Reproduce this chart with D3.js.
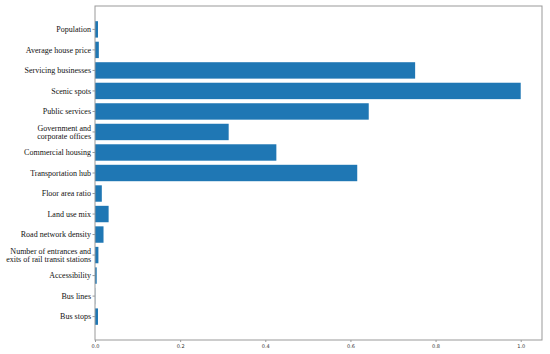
<!DOCTYPE html>
<html><head><meta charset="utf-8">
<script src="https://cdn.jsdelivr.net/npm/d3@7"></script>
<style>body{margin:0;background:#fff}</style>
</head><body><svg id="c" width="550" height="354"></svg>
<script>
const categories = ["Population","Average house price","Servicing businesses","Scenic spots","Public services","Government and\ncorporate offices","Commercial housing","Transportation hub","Floor area ratio","Land use mix","Road network density","Number of entrances and\nexits of rail transit stations","Accessibility","Bus lines","Bus stops"];
const values = [0.007,0.009,0.752,1.0,0.643,0.314,0.426,0.616,0.016,0.032,0.020,0.008,0.004,0.0005,0.007];
const xTicks = [0,0.2,0.4,0.6,0.8,1.0];

const svg = d3.select("#c");
const L=95, R=542, T=6, B=340;
const x = d3.scaleLinear().domain([0,1.05]).range([L,R]);
const n = categories.length;
const yc = d3.scaleLinear().domain([-1.14, n-1+1.14]).range([T,B]);
const bh = 0.8*(yc(1)-yc(0));

svg.selectAll("rect.bar").data(values).enter().append("rect")
  .attr("x", x(0)).attr("y",(d,i)=>yc(i)-bh/2)
  .attr("width", d=>x(d)-x(0)).attr("height", bh).attr("fill","#1f77b4");

svg.append("rect").attr("x",L).attr("y",T).attr("width",R-L).attr("height",B-T)
  .attr("fill","none").attr("stroke","#999").attr("stroke-width",1);

const xa = svg.append("g").attr("transform",`translate(0,${B})`)
  .call(d3.axisBottom(x).tickValues(xTicks).tickFormat(d3.format(".1f")).tickSize(2).tickPadding(2));
xa.select(".domain").remove();
xa.selectAll("line").attr("stroke","#999");
xa.selectAll("text").attr("font-family","DejaVu Sans").attr("font-size","5px").attr("fill","#333");

const g = svg.append("g");
categories.forEach((c,i)=>{
  const y = yc(i);
  g.append("line").attr("x1",L-2.5).attr("x2",L).attr("y1",y).attr("y2",y).attr("stroke","#999");
  const lines = c.split("\n");
  const lh = 7.8;
  const t = g.append("text").attr("text-anchor","end").attr("font-family","Liberation Serif")
    .attr("font-size","8px").attr("fill","#111");
  lines.forEach((ln,j)=>{
    t.append("tspan").attr("x",L-4).attr("y", y + (j-(lines.length-1)/2)*lh).attr("dy","0.33em").text(ln);
  });
});
</script></body></html>
